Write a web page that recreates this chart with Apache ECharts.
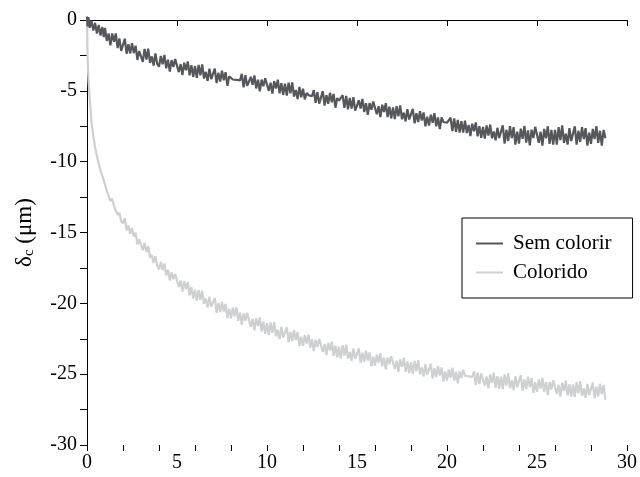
<!DOCTYPE html>
<html><head><meta charset="utf-8">
<script src="https://cdn.jsdelivr.net/npm/echarts@6/dist/echarts.min.js"></script>
<style>html,body{margin:0;padding:0;background:#fff}#c{width:640px;height:477px}</style>
</head><body><div id="c"></div><script>
// time axis (x values)
const t = [0,0.03,0.08,0.15,0.25,0.35,0.45,0.55,0.65,0.75,0.85,0.93,
1,1.1,1.2,1.3,1.4,1.5,1.6,1.7,1.8,1.9,
2,2.1,2.2,2.3,2.4,2.5,2.6,2.7,2.8,2.9,
3,3.1,3.2,3.3,3.4,3.5,3.6,3.7,3.8,3.9,
4,4.1,4.2,4.3,4.4,4.5,4.6,4.7,4.8,4.9,
5,5.1,5.2,5.3,5.4,5.5,5.6,5.7,5.8,5.9,
6,6.1,6.2,6.3,6.4,6.5,6.6,6.7,6.8,6.9,
7,7.1,7.2,7.3,7.4,7.5,7.6,7.7,7.8,7.9,
8,8.1,8.2,8.3,8.4,8.5,8.6,8.7,8.8,8.9,
9,9.1,9.2,9.3,9.4,9.5,9.6,9.7,9.8,9.9,
10,10.1,10.2,10.3,10.4,10.5,10.6,10.7,10.8,10.9,
11,11.1,11.2,11.3,11.4,11.5,11.6,11.7,11.8,11.9,
12,12.1,12.2,12.3,12.4,12.5,12.6,12.7,12.8,12.9,
13,13.1,13.2,13.3,13.4,13.5,13.6,13.7,13.8,13.9,
14,14.1,14.2,14.3,14.4,14.5,14.6,14.7,14.8,14.9,
15,15.1,15.2,15.3,15.4,15.5,15.6,15.7,15.8,15.9,
16,16.1,16.2,16.3,16.4,16.5,16.6,16.7,16.8,16.9,
17,17.1,17.2,17.3,17.4,17.5,17.6,17.7,17.8,17.9,
18,18.1,18.2,18.3,18.4,18.5,18.6,18.7,18.8,18.9,
19,19.1,19.2,19.3,19.4,19.5,19.6,19.7,19.8,19.9,
20,20.1,20.2,20.3,20.4,20.5,20.6,20.7,20.8,20.9,
21,21.1,21.2,21.3,21.4,21.5,21.6,21.7,21.8,21.9,
22,22.1,22.2,22.3,22.4,22.5,22.6,22.7,22.8,22.9,
23,23.1,23.2,23.3,23.4,23.5,23.6,23.7,23.8,23.9,
24,24.1,24.2,24.3,24.4,24.5,24.6,24.7,24.8,24.9,
25,25.1,25.2,25.3,25.4,25.5,25.6,25.7,25.8,25.9,
26,26.1,26.2,26.3,26.4,26.5,26.6,26.7,26.8,26.9,
27,27.1,27.2,27.3,27.4,27.5,27.6,27.7,27.8,27.9,
28,28.1,28.2,28.3,28.4,28.5,28.6,28.7,28.8];

// "Sem colorir" (dark grey) deflection values, µm
const semColorir = [0.25,-0.45,0.2,-0.55,-0.05,-0.75,-0.2,-0.95,-0.35,-1.1,-0.5,-1.2,
-0.55,-1.48,-0.95,-1.78,-0.95,-1.53,-0.95,-1.98,-1.3,-2.18,
-2.05,-1.32,-2.38,-1.7,-2.36,-1.63,-2.34,-1.81,-2.82,-2.19,
-2.1,-2.95,-2.04,-2.79,-2.03,-3.03,-2.57,-3.22,-2.36,-3.1,
-3.3,-2.54,-3.13,-2.47,-3.41,-2.8,-3.64,-2.83,-3.32,-2.76,
-2.8,-3.68,-3.11,-3.89,-3.02,-3.55,-2.93,-3.91,-3.19,-4.02,
-3.25,-4.09,-3.17,-3.91,-3.14,-4.13,-3.66,-4.3,-3.43,-4.17,
-4.2,-3.43,-4.45,-3.73,-4.35,-3.58,-4.25,-3.68,-4.65,-3.98,
-4.05,-4.2,-4.15,-4.22,-4.2,-4.26,-3.8,-4.75,-3.9,-4.65,
-4.78,-4.01,-4.58,-3.91,-4.83,-4.21,-5.03,-4.21,-4.68,-4.11,
-4.13,-5.0,-4.42,-5.2,-4.32,-4.84,-4.21,-5.18,-4.46,-5.28,
-4.5,-5.34,-4.43,-5.17,-4.41,-5.4,-4.94,-5.58,-4.72,-5.46,
-4.85,-5.6,-5.15,-5.3,-5.32,-5.38,-4.95,-5.85,-5.1,-5.9,
-5.8,-5.02,-6.04,-5.3,-5.92,-5.14,-5.81,-5.22,-6.19,-5.51,
-5.7,-5.72,-5.3,-6.2,-5.35,-6.3,-5.5,-6.25,-5.45,-6.4,
-6.45,-5.67,-6.25,-5.57,-6.49,-5.87,-6.69,-5.86,-6.33,-5.76,
-5.78,-6.65,-6.08,-6.85,-5.98,-6.5,-5.87,-6.85,-6.12,-6.95,
-6.17,-7.0,-6.08,-6.8,-6.03,-7.01,-6.54,-7.16,-6.29,-7.02,
-7.05,-6.28,-7.3,-6.58,-7.2,-6.43,-7.1,-6.53,-7.5,-6.83,
-7.45,-6.68,-7.25,-6.58,-7.5,-6.88,-7.7,-6.88,-7.2,-7.3,
-7.25,-7.3,-6.9,-7.85,-6.95,-7.9,-7.05,-7.95,-7.15,-7.95,
-7.1,-7.98,-7.41,-8.19,-7.32,-7.85,-7.23,-8.21,-7.49,-8.32,
-7.55,-8.37,-7.44,-8.16,-7.38,-8.35,-7.87,-8.49,-7.61,-8.33,
-8.47,-7.43,-8.73,-7.75,-8.54,-7.49,-8.34,-7.56,-8.8,-7.88,
-8.72,-7.67,-8.39,-7.48,-8.65,-7.8,-8.85,-7.74,-8.33,-7.54,
-7.56,-8.67,-7.89,-8.87,-7.69,-8.35,-7.5,-8.74,-7.76,-8.8,
-7.76,-8.8,-7.56,-8.48,-7.43,-8.67,-8.02,-8.8,-7.63,-8.54,
-8.54,-7.5,-8.8,-7.82,-8.61,-7.56,-8.41,-7.63,-8.87,-7.95,
-8.74,-7.69,-8.41,-7.5,-8.67,-7.82,-8.87,-7.76,-8.35];

// "Colorido" (light grey) deflection values, µm
const colorido = [0.2,-2.5,-4.2,-5.5,-7.2,-8.2,-9.0,-9.6,-10.15,-10.6,-11.0,-11.3,
-11.27,-12.05,-12.1,-12.78,-12.62,-13.13,-13.05,-13.76,-13.6,-14.2,
-14.36,-13.98,-14.85,-14.5,-15.1,-14.68,-15.29,-15.02,-15.84,-15.49,
-15.54,-16.25,-15.73,-16.38,-15.96,-16.78,-16.58,-17.15,-16.67,-17.31,
-17.61,-17.09,-17.64,-17.2,-18.03,-17.63,-18.38,-17.82,-18.29,-17.93,
-18.0,-18.85,-18.4,-19.17,-18.44,-18.99,-18.49,-19.43,-18.85,-19.66,
-19.03,-19.83,-19.05,-19.76,-19.1,-20.04,-19.66,-20.28,-19.54,-20.25,
-20.35,-19.61,-20.66,-19.97,-20.62,-19.88,-20.58,-20.04,-21.04,-20.4,
-21.05,-20.31,-20.92,-20.28,-21.24,-20.65,-21.51,-20.72,-21.23,-20.69,
-20.75,-21.65,-21.1,-21.9,-21.05,-21.6,-21.0,-22.0,-21.3,-22.15,
-21.4,-22.25,-21.34,-22.09,-21.33,-22.33,-21.87,-22.52,-21.66,-22.41,
-22.45,-21.69,-22.73,-22.02,-22.66,-21.9,-22.59,-22.03,-23.02,-22.36,
-23.0,-22.25,-22.84,-22.19,-23.13,-22.53,-23.37,-22.57,-23.06,-22.51,
-22.55,-23.44,-22.87,-23.66,-22.79,-23.33,-22.71,-23.7,-22.98,-23.82,
-23.05,-23.88,-22.96,-23.69,-22.92,-23.9,-23.43,-24.06,-23.19,-23.92,
-23.95,-23.18,-24.21,-23.49,-24.12,-23.35,-24.03,-23.46,-24.44,-23.77,
-24.4,-23.63,-24.2,-23.53,-24.45,-23.83,-24.65,-23.83,-24.3,-23.73,
-23.75,-24.63,-24.05,-24.83,-23.95,-24.48,-23.85,-24.83,-24.1,-24.93,
-24.15,-24.98,-24.06,-24.79,-24.02,-25.0,-24.53,-25.16,-24.29,-25.02,
-25.05,-24.28,-25.3,-24.58,-25.2,-24.43,-25.1,-24.53,-25.5,-24.83,
-25.45,-24.67,-25.23,-24.55,-25.46,-24.83,-25.64,-24.81,-25.27,-24.69,
-25.1,-25.2,-25.15,-25.22,-25.2,-24.8,-25.75,-24.9,-25.7,-24.95,
-24.85,-25.81,-25.16,-26.0,-25.02,-25.6,-24.89,-25.96,-25.14,-26.04,
-25.17,-26.06,-25.02,-25.81,-24.94,-25.99,-25.45,-26.12,-25.14,-25.92,
-25.93,-25.07,-26.18,-25.37,-26.05,-25.18,-25.91,-25.27,-26.32,-25.57,
-26.25,-25.38,-26.01,-25.26,-26.27,-25.57,-26.47,-25.56,-26.08,-25.43,
-25.45,-26.4,-25.75,-26.58,-25.6,-26.17,-25.46,-26.52,-25.7,-26.59,
-25.72,-26.61,-25.57,-26.36,-25.49,-26.54,-26.0,-26.67,-25.69,-26.47,
-26.48,-25.6,-26.71,-25.89,-26.56,-25.68,-26.41,-25.76,-26.8];

const seriesNames = ['Sem colorir', 'Colorido'];
const yName = '{d|δ}{s|c}{d| (μm)}';

const FONT = 'Liberation Serif';
const chart = echarts.init(document.getElementById('c'), null, {renderer: 'canvas'});
const zip = (ys) => ys.map((y, i) => [t[i], y]);

chart.setOption({
  animation: false,
  backgroundColor: '#ffffff',
  grid: {left: 87, right: 9, top: 20, bottom: 32, containLabel: false},
  legend: {
    orient: 'vertical', left: 462, top: 218,
    padding: [15, 21, 15, 14],
    itemGap: 8, itemWidth: 27, itemHeight: 2, icon: 'rect',
    borderColor: '#000', borderWidth: 1, backgroundColor: '#fff',
    textStyle: {fontFamily: FONT, fontSize: 21, color: '#000', padding: [0, 0, 0, 5]},
    data: seriesNames
  },
  xAxis: [{
    type: 'value', min: 0, max: 30, interval: 5,
    axisLine: {show: true, lineStyle: {color: '#000', width: 1}},
    axisTick: {show: true, length: 6, lineStyle: {color: '#000'}},
    axisLabel: {fontFamily: FONT, fontSize: 20, color: '#000', margin: 8},
    splitLine: {show: false}
  }, {
    type: 'value', min: 0, max: 30, interval: 2, position: 'bottom',
    axisLine: {show: false},
    axisTick: {show: true, length: 6, lineStyle: {color: '#000'}},
    axisLabel: {show: false},
    splitLine: {show: false}
  }],
  yAxis: {
    type: 'value', min: -30, max: 0, interval: 5,
    name: yName, nameLocation: 'middle', nameGap: 50,
    nameTextStyle: {
      fontFamily: FONT, color: '#000',
      rich: {
        d: {fontFamily: FONT, fontSize: 23, color: '#000'},
        s: {fontFamily: FONT, fontSize: 15, color: '#000', padding: [10, 0, 0, 0]}
      }
    },
    axisLine: {show: true, lineStyle: {color: '#000', width: 1}},
    axisTick: {show: true, length: 7, lineStyle: {color: '#000'}},
    minorTick: {show: true, splitNumber: 2, length: 7, lineStyle: {color: '#000'}},
    axisLabel: {fontFamily: FONT, fontSize: 20, color: '#000', margin: 10},
    splitLine: {show: false}
  },
  series: [{
    name: seriesNames[0], type: 'line', symbol: 'none', clip: false,
    data: zip(semColorir),
    lineStyle: {color: '#56575a', width: 2.2}, itemStyle: {color: '#56575a'}, z: 3
  }, {
    name: seriesNames[1], type: 'line', symbol: 'none', clip: false,
    data: zip(colorido),
    lineStyle: {color: '#cfd0d2', width: 2.2}, itemStyle: {color: '#cfd0d2'}, z: 2
  }]
});
</script></body></html>
